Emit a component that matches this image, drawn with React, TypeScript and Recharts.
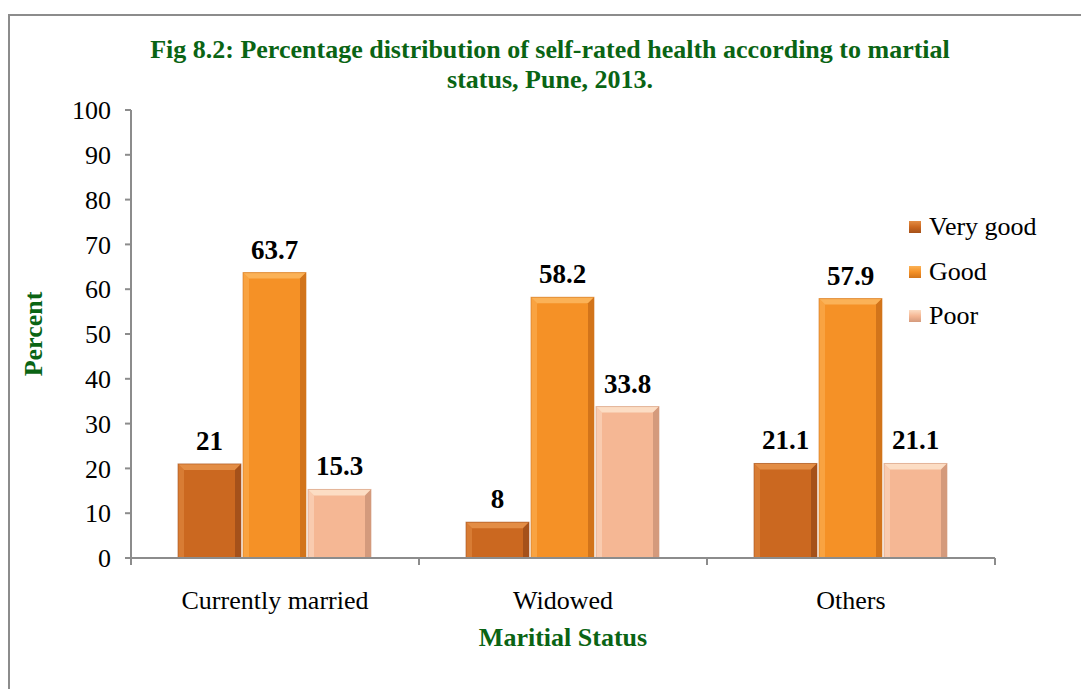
import React from 'react'
import { BarChart, Bar, XAxis, YAxis, LabelList, Label } from 'recharts'

// categories & series values
const categories = ['Currently married', 'Widowed', 'Others']
const veryGood = [21, 8, 21.1]
const good = [63.7, 58.2, 57.9]
const poor = [15.3, 33.8, 21.1]
const yTicks = [0, 10, 20, 30, 40, 50, 60, 70, 80, 90, 100]

const SERIES = [
  { key: 'veryGood', name: 'Very good', base: '#CB6820', light: '#E38D45', dark: '#A5511A' },
  { key: 'good', name: 'Good', base: '#F59126', light: '#FBB257', dark: '#D2741A' },
  { key: 'poor', name: 'Poor', base: '#F5B794', light: '#FCDDC4', dark: '#D49A7C' },
]

const data = categories.map((c, i) => ({
  cat: c,
  veryGood: veryGood[i],
  good: good[i],
  poor: poor[i],
}))

const FONT = '"Liberation Serif", "Times New Roman", serif'
const GREEN = '#0A6414'
const AXIS = '#8c8c8c'

// bevelled bar, as in the office-style chart
function bevelShape(s: (typeof SERIES)[number]) {
  return (props: any) => {
    const { x, y, width: w, height: h } = props
    if (!h || h <= 0) return <g />
    const b = Math.min(6, h / 3, w / 3)
    return (
      <g>
        <rect x={x} y={y} width={w} height={h} fill={s.base} />
        <polygon points={`${x},${y} ${x + w},${y} ${x + w - b},${y + b} ${x + b},${y + b}`} fill={s.light} />
        <polygon points={`${x},${y} ${x + b},${y + b} ${x + b},${y + h} ${x},${y + h}`} fill={s.light} opacity={0.55} />
        <polygon points={`${x + w},${y} ${x + w - b},${y + b} ${x + w - b},${y + h} ${x + w},${y + h}`} fill={s.dark} />
        <rect x={x} y={y} width={w} height={h} fill="none" stroke={s.dark} strokeOpacity={0.6} />
      </g>
    )
  }
}

// category label + tick marks on the band edges (between categories)
function CatTick(props: any) {
  const { x, y, payload, index } = props
  const half = payload?.offset ?? 0
  const y0 = y - 2
  return (
    <g>
      {half > 0 && <line x1={x - half} x2={x - half} y1={y0} y2={y0 + 7} stroke={AXIS} strokeWidth={2} />}
      {half > 0 && index === categories.length - 1 && (
        <line x1={x + half} x2={x + half} y1={y0} y2={y0 + 7} stroke={AXIS} strokeWidth={2} />
      )}
      <text x={x} y={y + 43} textAnchor="middle" dominantBaseline="middle" fill="#000" fontFamily={FONT} fontSize={26}>
        {payload.value}
      </text>
    </g>
  )
}

function LegendBox() {
  return (
    <div style={{ position: 'absolute', left: 909, top: 205, fontFamily: FONT, fontSize: 26, color: '#000' }}>
      {SERIES.map((s) => (
        <div key={s.key} style={{ display: 'flex', alignItems: 'center', height: 44.5 }}>
          <span
            style={{
              display: 'inline-block',
              width: 12,
              height: 12,
              marginRight: 8,
              background: `linear-gradient(180deg, ${s.light} 0%, ${s.base} 50%, ${s.dark} 100%)`,
            }}
          />
          {s.name}
        </div>
      ))}
    </div>
  )
}

export default function App() {
  return (
    <div style={{ position: 'absolute', left: 0, top: 0, width: 1081, height: 689, background: '#fff', overflow: 'hidden' }}>
      <div
        style={{
          position: 'absolute',
          left: 8,
          top: 14,
          width: 1100,
          height: 700,
          border: '2px solid #8c8c8c',
        }}
      />
      <div
        style={{
          position: 'absolute',
          left: 50,
          top: 35,
          width: 1000,
          textAlign: 'center',
          fontFamily: FONT,
          fontWeight: 'bold',
          fontSize: 26,
          lineHeight: '30px',
          color: GREEN,
        }}
      >
        Fig 8.2: Percentage distribution of self-rated health according to martial
        <br />
        status, Pune, 2013.
      </div>
      <BarChart
        width={1081}
        height={689}
        data={data}
        margin={{ top: 110, right: 86, bottom: 101, left: 75 }}
        barCategoryGap={47}
        barGap={2}
        style={{ position: 'absolute', left: 0, top: 0 }}
      >
        <XAxis
          dataKey="cat"
          height={30}
          stroke={AXIS}
          strokeWidth={2}
          tickSize={0}
          tickMargin={2}
          tick={<CatTick />}
          interval={0}
        >
          <Label
            value="Maritial Status"
            position="bottom"
            offset={40}
            style={{ fill: GREEN, fontFamily: FONT, fontSize: 26, fontWeight: 'bold' }}
          />
        </XAxis>
        <YAxis
          domain={[0, 100]}
          ticks={yTicks}
          width={56}
          stroke={AXIS}
          strokeWidth={2}
          tickSize={6}
          interval={0}
          tick={{ fill: '#000', fontFamily: FONT, fontSize: 26, dx: -12 }}
        >
          <Label
            value="Percent"
            angle={-90}
            position="insideLeft"
            offset={-42}
            style={{ fill: GREEN, fontFamily: FONT, fontSize: 26, fontWeight: 'bold', textAnchor: 'middle' }}
          />
        </YAxis>
        {SERIES.map((s) => (
          <Bar key={s.key} dataKey={s.key} name={s.name} isAnimationActive={false} shape={bevelShape(s)}>
            <LabelList
              dataKey={s.key}
              position="top"
              offset={14}
              style={{ fill: '#000', fontFamily: FONT, fontSize: 27, fontWeight: 'bold' }}
            />
          </Bar>
        ))}
      </BarChart>
      <LegendBox />
    </div>
  )
}
